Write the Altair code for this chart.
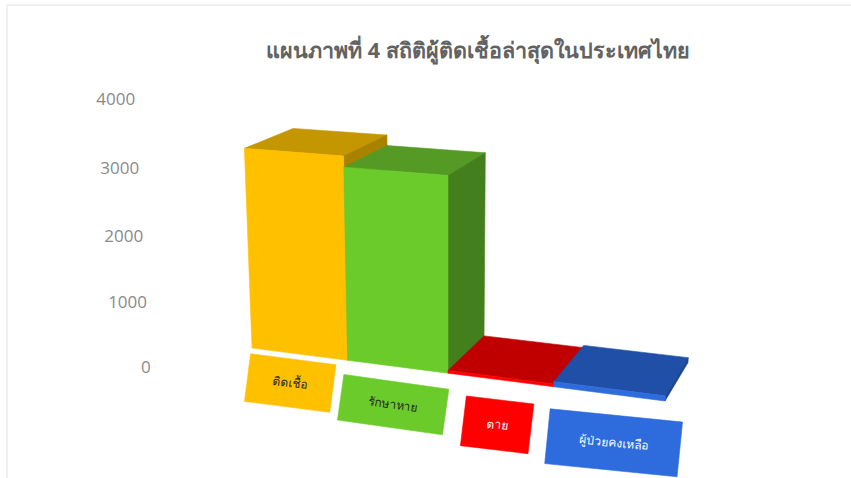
import math
import altair as alt

# Chart content
TITLE = "แผนภาพที่ 4 สถิติผู้ติดเชื้อล่าสุดในประเทศไทย"
CATEGORIES = ["ติดเชื้อ", "รักษาหาย", "ตาย", "ผู้ป่วยคงเหลือ"]
VALUES = [3030, 2870, 40, 75]
TICKS = [0, 1000, 2000, 3000, 4000]

# Face colours per bar: front, top, side, label text
PALETTE = [
    ("#FFC000", "#C49700", "#A98200", "#262626"),
    ("#6ACB2A", "#549A24", "#437F1D", "#262626"),
    ("#FF0000", "#C00000", "#A00000", "#FFFFFF"),
    ("#2E6BDD", "#1F4FA6", "#1C4590", "#FFFFFF"),
]

# Label plaque layout: offset from the bar's front-centre, width, height, tilt
PLAQUES = [
    (-9, 29, 86, 48, 7.3),
    (-4, 38, 106, 46, 8.0),
    (-3, 45, 68, 50, 6.8),
    (5, 49, 133, 55, 5.7),
]

PX_PER_UNIT = 0.066
W, H = 851, 478


def project(x, z, h):
    """Perspective projection of (bar index, depth, height) to page pixels."""
    w = 1 - 0.0242 * x + 0.0662 * z - 0.0001866 * h
    sx = 252 + 87.16 * x + 66.3 * z - 0.0836 * h
    sy = 348 + 3.55 * x - 10.7 * z - 1.026 * h
    return sx / w, sy / w


def face(points, fill):
    ring = [list(p) for p in points] + [list(points[0])]
    return {
        "type": "Feature",
        "geometry": {"type": "Polygon", "coordinates": [ring]},
        "properties": {"fill": fill},
    }


features = []
for i, value in enumerate(VALUES):
    front, top, side, _ = PALETTE[i]
    h = value * PX_PER_UNIT
    features.append(face([project(i, 0, h), project(i + 1, 0, h), project(i + 1, 1, h), project(i, 1, h)], top))
    features.append(face([project(i + 1, 0, 0), project(i + 1, 1, 0), project(i + 1, 1, h), project(i + 1, 0, h)], side))
    features.append(face([project(i, 0, 0), project(i + 1, 0, 0), project(i + 1, 0, h), project(i, 0, h)], front))

plaque_rows = []
for i, (dx, dy, bw, bh, tilt) in enumerate(PLAQUES):
    cx, cy = project(i + 0.5, 0, 0)
    cx, cy = cx + dx, cy + dy
    t = math.radians(tilt)
    ux, uy = math.cos(t), math.sin(t)
    corners = [
        (cx + a * bw / 2 * ux - b * bh / 2 * uy, cy + a * bw / 2 * uy + b * bh / 2 * ux)
        for a, b in [(-1, -1), (1, -1), (1, 1), (-1, 1)]
    ]
    features.append(face(corners, PALETTE[i][0]))
    plaque_rows.append(
        {"lon": cx, "lat": cy, "text": CATEGORIES[i], "tilt": tilt, "ink": PALETTE[i][3]}
    )

tick_rows = []
for v in TICKS:
    sx, sy = project(-0.63, -0.782, v * PX_PER_UNIT * 0.97)
    tick_rows.append({"lon": sx, "lat": sy, "text": str(v)})

PROJ = dict(type="identity", scale=1, translate=[0, 0])

FONT = "Noto Sans"

faces = (
    alt.Chart(
        alt.Data(
            values={"type": "FeatureCollection", "features": features},
            format=alt.DataFormat(property="features", type="json"),
        )
    )
    .mark_geoshape(strokeWidth=0.6)
    .encode(
        color=alt.Color("properties.fill:N", scale=None),
        stroke=alt.Stroke("properties.fill:N", scale=None),
    )
    .project(**PROJ)
)

plaque_text = (
    alt.Chart(alt.Data(values=plaque_rows))
    .mark_text(font=FONT, fontSize=12, baseline="middle", align="center")
    .encode(
        longitude="lon:Q",
        latitude="lat:Q",
        text="text:N",
        angle=alt.Angle("tilt:Q", scale=None),
        color=alt.Color("ink:N", scale=None),
    )
    .project(**PROJ)
)

tick_text = (
    alt.Chart(alt.Data(values=tick_rows))
    .mark_text(font="Open Sans", fontSize=17, align="right", baseline="middle", color="#8A8A8A")
    .encode(longitude="lon:Q", latitude="lat:Q", text="text:N")
    .project(**PROJ)
)

title_text = (
    alt.Chart(alt.Data(values=[{"t": TITLE}]))
    .mark_text(font=FONT, fontSize=21.5, fontWeight="bold", align="center", baseline="middle", color="#626262")
    .encode(x=alt.value(478), y=alt.value(52), text="t:N")
)

frame_top = (
    alt.Chart(alt.Data(values=[{}]))
    .mark_rule(color="#F0F0F0", strokeWidth=2)
    .encode(x=alt.value(7), x2=alt.value(851), y=alt.value(5))
)
frame_left = (
    alt.Chart(alt.Data(values=[{}]))
    .mark_rule(color="#F0F0F0", strokeWidth=2)
    .encode(x=alt.value(7), y=alt.value(5), y2=alt.value(478))
)

chart = (
    alt.layer(frame_top, frame_left, faces, plaque_text, tick_text, title_text)
    .properties(width=W, height=H, padding=0, autosize="none", background="white")
    .configure_view(stroke=None)
)

chart.save("out.html", embed_options={"renderer": "svg", "actions": False})
